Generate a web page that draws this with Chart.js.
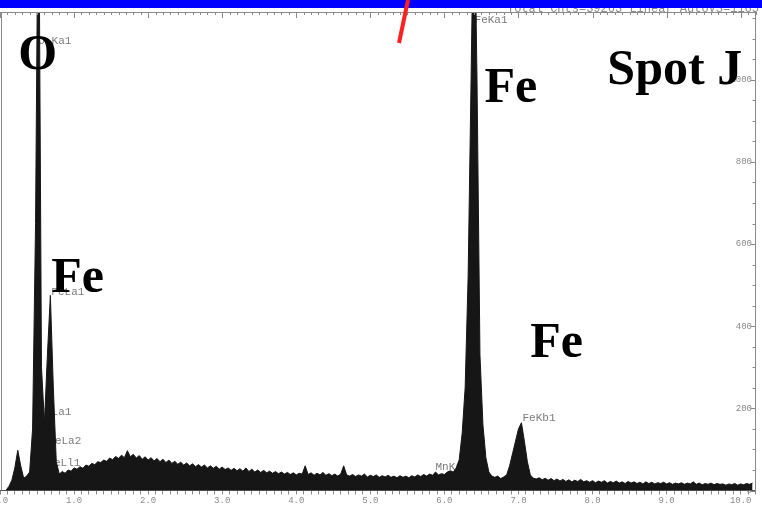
<!DOCTYPE html>
<html>
<head>
<meta charset="utf-8">
<script src="https://cdn.jsdelivr.net/npm/chart.js@4.4.1/dist/chart.umd.min.js"></script>
<style>
  html, body { margin: 0; padding: 0; background: #fff; }
</style>
</head>
<body>
<canvas id="spectrum" width="762" height="507"></canvas>
<script>
// EDS spectrum, counts per 0.04 keV channel starting at 0.08 keV
const channelStart = 0.08;
const channelWidth = 0.04;
const counts = [
  0, 10, 25, 55, 98, 60, 30, 35, 45, 150,          // 0.08 - 0.44
  650, 1600, 300, 165, 330, 475, 250, 70, 40, 46,  // 0.48 - 0.84
  42, 50, 47, 55, 52, 58, 54, 62, 59, 66,          // 0.88 - 1.24
  63, 70, 68, 74, 71, 79, 75, 83, 78, 86,          // 1.28 - 1.64
  80, 97, 82, 88, 79, 85, 76, 82, 74, 80,          // 1.68 - 2.04
  72, 78, 70, 76, 68, 74, 66, 71, 64, 69,          // 2.08 - 2.44
  62, 67, 60, 65, 58, 63, 57, 62, 55, 60,          // 2.48 - 2.84
  54, 59, 52, 57, 51, 55, 49, 54, 48, 53,          // 2.88 - 3.24
  47, 55, 46, 52, 45, 50, 44, 49, 43, 47,          // 3.28 - 3.64
  42, 46, 41, 45, 40, 44, 39, 43, 38, 42,          // 3.68 - 4.04
  40, 60, 39, 43, 37, 42, 38, 44, 37, 41,          // 4.08 - 4.44
  36, 40, 35, 40, 60, 38, 35, 39, 34, 38,          // 4.48 - 4.84
  35, 40, 33, 37, 34, 38, 32, 36, 33, 37,          // 4.88 - 5.24
  32, 35, 31, 36, 32, 35, 31, 36, 33, 38,          // 5.28 - 5.64
  34, 39, 35, 40, 37, 45, 38, 41, 39, 45,          // 5.68 - 6.04
  48, 45, 55, 75, 140, 250, 520, 1000, 1500, 1000, // 6.08 - 6.44
  330, 160, 80, 45, 35, 32, 35, 29, 33, 38,        // 6.48 - 6.84
  60, 90, 120, 150, 165, 120, 70, 38, 30, 28,      // 6.88 - 7.24
  31, 26, 30, 25, 29, 24, 28, 23, 27, 22,          // 7.28 - 7.64
  26, 21, 25, 22, 27, 21, 24, 20, 24, 19,          // 7.68 - 8.04
  23, 20, 24, 18, 22, 19, 23, 18, 21, 17,          // 8.08 - 8.44
  22, 18, 21, 17, 20, 16, 21, 17, 20, 16,          // 8.48 - 8.84
  19, 17, 20, 16, 19, 15, 18, 16, 19, 15,          // 8.88 - 9.24
  18, 16, 21, 15, 18, 14, 17, 15, 18, 14,          // 9.28 - 9.64
  17, 15, 16, 13, 16, 14, 17, 13, 16, 14,          // 9.68 - 10.04
  17, 15, 18                                       // 10.08 - 10.16
];

const xMin = 0;
const xMax = 10.2;
const yMax = 1165;
const xTickStep = 0.1;
const yTickStep = 50;
const yLabelStep = 200;

// small line labels from the analyser (anchored in keV / counts)
const peakLabels = ['O Ka1', 'FeLa1', 'MnLa1', 'FeLa2', 'FeLl1', 'FeLn', 'MnKa', 'FeKa1', 'FeKb1'];
const peakLabelEnergy = [0.518, 0.693, 0.518, 0.652, 0.639, 0.639, 5.88, 6.407, 7.054];
const peakLabelCounts = [1094, 483, 191, 120, 67, 35, 57, 1146, 177];

// big element annotations on the slide
const elementLabels = ['O', 'Fe', 'Spot J', 'Fe', 'Fe'];
const elementEnergy = [0.248, 6.54, 8.2, 0.693, 7.16];
const elementCounts = [1026, 946, 990, 483, 325];

const headerText = 'Total Cnts=39263 Linear AutoVS=1165';

const points = counts.map((c, i) => ({ x: +(channelStart + i * channelWidth).toFixed(2), y: c }));

const isMajor = v => Math.abs(v - Math.round(v)) < 1e-6;

const decor = {
  id: 'decor',
  beforeDraw(chart) {
    const c = chart.ctx;
    c.save();
    c.fillStyle = '#ffffff';
    c.fillRect(0, 0, chart.width, chart.height);
    c.restore();
  },
  beforeDatasetsDraw(chart) {
    const c = chart.ctx;
    const xs = chart.scales.x, ys = chart.scales.y;
    c.save();
    c.font = '11px "Liberation Mono", monospace';
    c.fillStyle = '#7a7a7a';
    c.textBaseline = 'middle';
    c.textAlign = 'left';
    peakLabels.forEach((t, i) => {
      c.fillText(t, xs.getPixelForValue(peakLabelEnergy[i]), ys.getPixelForValue(peakLabelCounts[i]));
    });
    c.restore();
  },
  afterDraw(chart) {
    const c = chart.ctx;
    const a = chart.chartArea;
    const xs = chart.scales.x, ys = chart.scales.y;
    c.save();
    // frame: top, left and inner ticks
    c.strokeStyle = '#8a8a8a';
    c.lineWidth = 1;
    c.beginPath();
    c.moveTo(0, a.top + 0.5); c.lineTo(a.right, a.top + 0.5);
    c.moveTo(1.5, a.top); c.lineTo(1.5, a.bottom);
    xs.ticks.forEach(t => {
      const px = Math.round(xs.getPixelForValue(t.value)) + 0.5;
      c.moveTo(px, a.top);
      c.lineTo(px, a.top + (isMajor(t.value) ? 6 : 3));
    });
    ys.ticks.forEach(t => {
      const py = Math.round(ys.getPixelForValue(t.value)) + 0.5;
      c.moveTo(a.right, py);
      c.lineTo(a.right - (t.value % yLabelStep === 0 ? 5 : 3), py);
    });
    c.stroke();

    // element annotations
    c.fillStyle = '#000';
    c.font = 'bold 50px "Liberation Serif", serif';
    c.textAlign = 'left';
    c.textBaseline = 'alphabetic';
    elementLabels.forEach((t, i) => {
      c.fillText(t, xs.getPixelForValue(elementEnergy[i]), ys.getPixelForValue(elementCounts[i]));
    });

    // header of the analyser printout
    c.font = '12px "Liberation Mono", monospace';
    c.fillStyle = '#8a8a8a';
    c.textAlign = 'right';
    c.textBaseline = 'middle';
    c.fillText(headerText, chart.width - 3, 9);

    // slide decoration: blue band and red pointer
    c.fillStyle = '#0000ff';
    c.fillRect(0, 0, chart.width, 8);
    c.strokeStyle = '#ff2020';
    c.lineWidth = 4;
    c.beginPath();
    c.moveTo(408, 0);
    c.lineTo(399, 43);
    c.stroke();
    c.restore();
  }
};

new Chart(document.getElementById('spectrum'), {
  type: 'line',
  data: {
    datasets: [{
      data: points,
      fill: 'origin',
      backgroundColor: '#161616',
      borderColor: '#161616',
      borderWidth: 1,
      pointRadius: 0,
      tension: 0
    }]
  },
  options: {
    responsive: false,
    animation: false,
    devicePixelRatio: 1,
    layout: { autoPadding: false, padding: { left: -1.4, top: 12, right: 0, bottom: 0 } },
    plugins: { legend: { display: false }, tooltip: { enabled: false } },
    scales: {
      x: {
        type: 'linear',
        position: 'bottom',
        min: xMin,
        max: xMax,
        afterFit: s => { s.height = 16.5; s.paddingLeft = 0; s.paddingRight = 0; },
        grid: { drawOnChartArea: false, drawTicks: true, tickLength: 4, color: '#8a8a8a' },
        border: { display: true, color: '#555', width: 1 },
        ticks: {
          stepSize: xTickStep,
          autoSkip: false,
          maxRotation: 0,
          minRotation: 0,
          includeBounds: false,
          padding: 1,
          color: '#8a8a8a',
          font: { family: 'Liberation Mono', size: 9 },
          callback: v => isMajor(v) ? v.toFixed(1) : ''
        }
      },
      y: {
        type: 'linear',
        position: 'right',
        min: 0,
        max: yMax,
        afterFit: s => { s.width = 6.5; s.paddingTop = 0; s.paddingBottom = 0; },
        grid: { drawOnChartArea: false, drawTicks: false },
        border: { display: true, color: '#8a8a8a', width: 1 },
        ticks: {
          stepSize: yTickStep,
          includeBounds: false,
          mirror: true,
          padding: -3.5,
          color: '#8a8a8a',
          font: { family: 'Liberation Mono', size: 9 },
          callback: v => v % yLabelStep === 0 ? v : ''
        }
      }
    }
  },
  plugins: [decor]
});
</script>
</body>
</html>
